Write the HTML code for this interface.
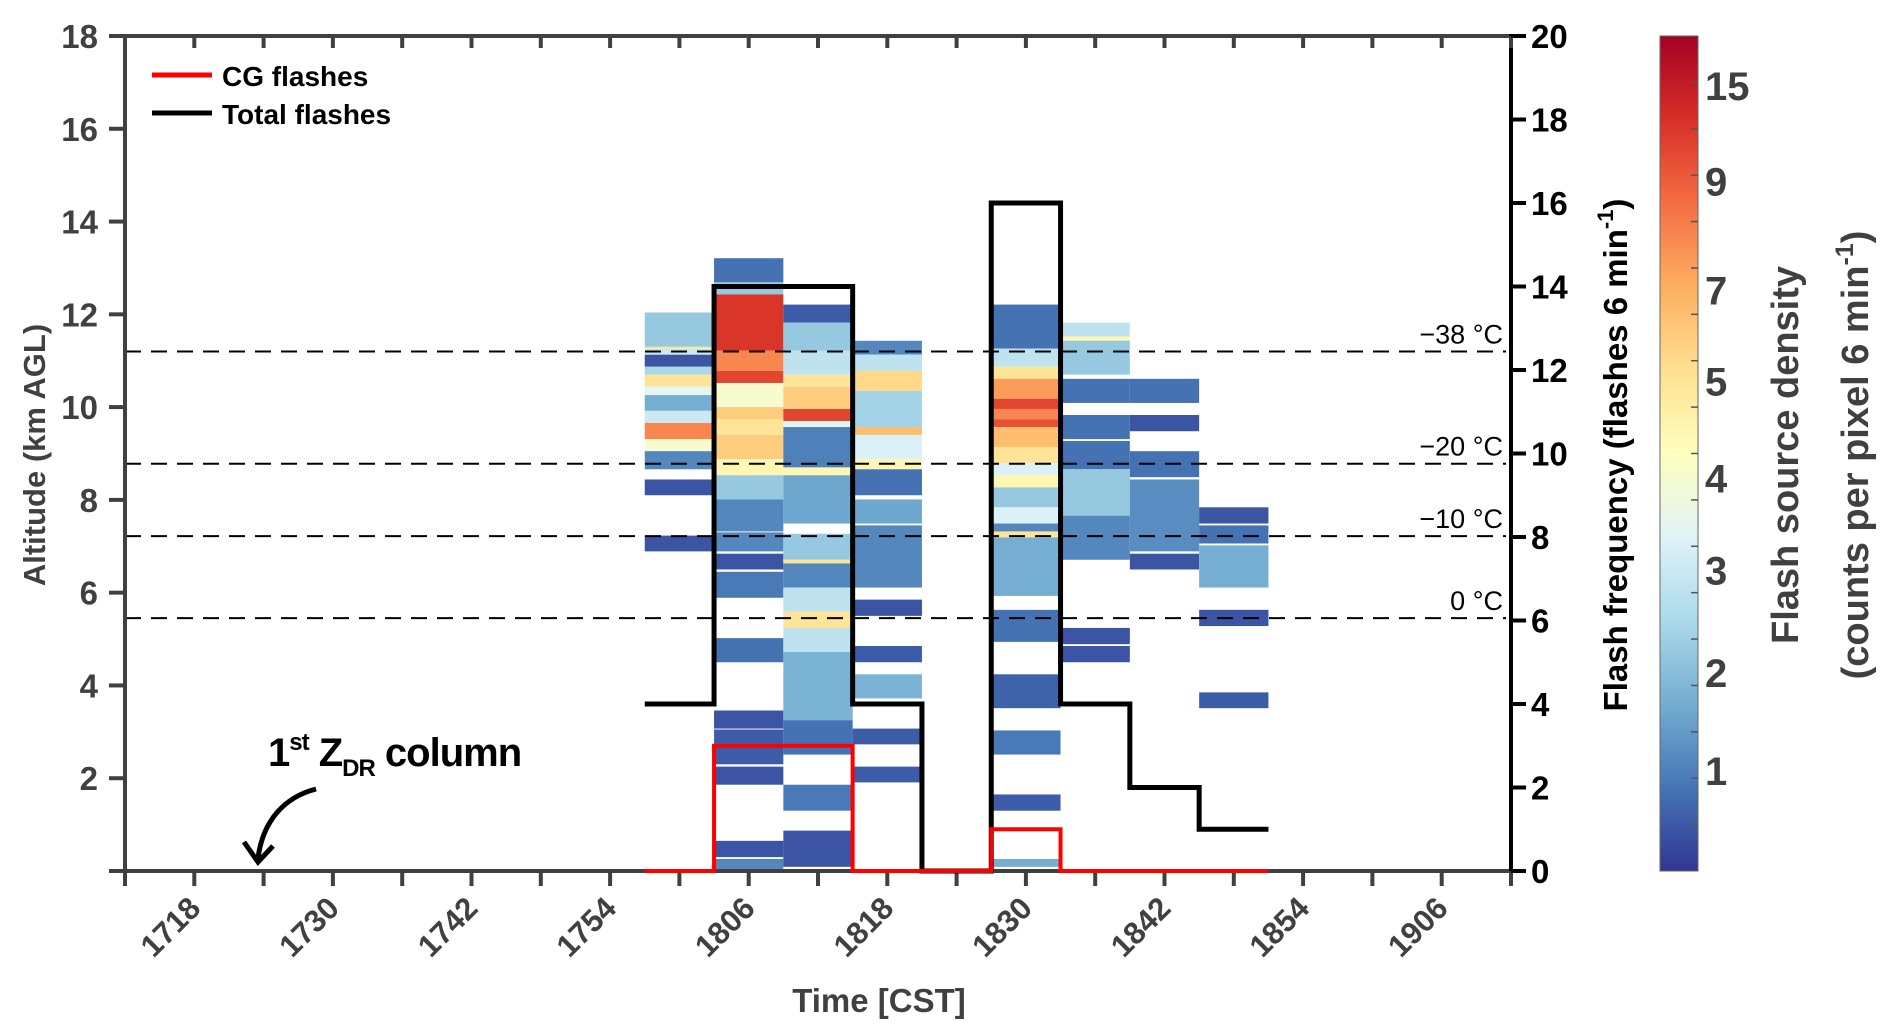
<!DOCTYPE html>
<html><head><meta charset="utf-8"><style>
html,body{margin:0;padding:0;background:#fff;}
svg{display:block;font-family:"Liberation Sans",Arial,sans-serif;font-weight:bold;}
</style></head><body>
<svg id="chart" width="1892" height="1034" viewBox="0 0 1892 1034" xmlns="http://www.w3.org/2000/svg">
<defs>
<linearGradient id="cmapGrad" x1="0" y1="1" x2="0" y2="0">
<stop offset="0" stop-color="#313695"/><stop offset="0.1" stop-color="#4575b4"/><stop offset="0.2" stop-color="#74add1"/><stop offset="0.3" stop-color="#abd9e9"/><stop offset="0.4" stop-color="#e0f3f8"/><stop offset="0.5" stop-color="#ffffbf"/><stop offset="0.6" stop-color="#fee090"/><stop offset="0.7" stop-color="#fdae61"/><stop offset="0.8" stop-color="#f46d43"/><stop offset="0.9" stop-color="#d73027"/><stop offset="1" stop-color="#a50026"/>
</linearGradient>
</defs>
<g id="heat"></g>
<g id="dash"></g>
<g id="axes"></g>
<g id="lines"></g>
<g id="cbar"></g>
<g>
<line x1="152" y1="75" x2="212" y2="75" stroke="#ff0000" stroke-width="5"/>
<text x="222" y="86" font-size="28" fill="#000">CG flashes</text>
<line x1="152" y1="113" x2="212" y2="113" stroke="#000" stroke-width="5"/>
<text x="222" y="124" font-size="28" fill="#000">Total flashes</text>
</g>
<g>
<text x="268" y="766" font-size="40" fill="#000" letter-spacing="-1">1<tspan font-size="24" dy="-16">st</tspan><tspan dy="16"> Z</tspan><tspan font-size="24" dy="10">DR</tspan><tspan dy="-10"> column</tspan></text>
<path d="M316,789 C285,797 263,820 258,858" fill="none" stroke="#000" stroke-width="5"/>
<path d="M244,842 L258,862 L273,846" fill="none" stroke="#000" stroke-width="5"/>
</g>
<text x="879" y="1012" font-size="33" fill="#404040" text-anchor="middle">Time [CST]</text>
<text transform="translate(45,455) rotate(-90)" font-size="31" fill="#404040" text-anchor="middle">Altitude (km AGL)</text>
<text transform="translate(1627,455) rotate(-90)" font-size="33" fill="#000" text-anchor="middle">Flash frequency (flashes 6 min<tspan font-size="22" dy="-14">-1</tspan><tspan dy="14">)</tspan></text>
<text transform="translate(1798,455) rotate(-90)" font-size="38" fill="#404040" text-anchor="middle">Flash source density</text>
<text transform="translate(1868,455) rotate(-90)" font-size="38" fill="#404040" text-anchor="middle">(counts per pixel 6 min<tspan font-size="25" dy="-15">-1</tspan><tspan dy="15">)</tspan></text>
</svg>
<script>
// ---- data ----
const timeLabels = ["1718","1730","1742","1754","1806","1818","1830","1842","1854","1906"];
const timeLabelIdx = [1,3,5,7,9,11,13,15,17,19];
const binIdx = [8,9,10,11,12,13,14,15,16];
const totalFlashes = [4,14,14,4,0,16,4,2,1];
const cgFlashes = [0,3,3,0,0,1,0,0,0];
const altTicks = [2,4,6,8,10,12,14,16,18];
const freqTicks = [0,2,4,6,8,10,12,14,16,18,20];
const isoAlt = [11.2,8.78,7.22,5.45];
const isoLabels = ["\u221238 \u00b0C","\u221220 \u00b0C","\u221210 \u00b0C","0 \u00b0C"];
const cbarTicks = [1,2,3,4,5,7,9,15];
const cbarFrac = [0.12,0.237,0.36,0.47,0.586,0.695,0.826,0.94];
const heatCols = [8,9,10,11,13,14,15,16];
const col1800 = [[11.30,12.04,2.2],[11.26,11.30,5],[11.13,11.26,3],[10.87,11.13,0.4],[10.70,10.87,2.5],[10.44,10.70,5],[10.26,10.44,3.5],[9.92,10.26,1.7],[9.66,9.92,3],[9.31,9.66,8],[9.05,9.31,4],[8.66,9.05,1.1],[8.10,8.44,0.4],[6.89,7.23,0.4]];
const col1806 = [[12.69,13.21,0.8],[12.43,12.69,2.2],[11.22,12.43,12.5],[10.78,11.22,8],[10.52,10.78,11],[10.0,10.52,4],[9.74,10.0,6],[9.40,9.74,5],[8.88,9.40,6],[8.53,8.88,4.5],[8.01,8.53,2.2],[7.32,8.01,1.1],[6.89,7.30,1.1],[6.50,6.84,0.4],[5.89,6.45,0.9],[4.50,5.02,0.8],[3.07,3.46,0.4],[2.30,3.05,0.5],[1.86,2.25,0.4],[0.30,0.65,0.4],[0.04,0.26,1.1]];
const col1812 = [[11.82,12.21,0.5],[11.22,11.82,2.2],[10.70,11.22,2.8],[10.44,10.70,5],[9.96,10.44,6],[9.70,9.96,11],[9.57,9.70,3.5],[8.70,9.57,1.0],[8.53,8.70,4.5],[7.49,8.53,1.6],[6.71,7.27,2.2],[6.63,6.71,5],[6.11,6.63,1.1],[5.59,6.11,2.8],[5.24,5.59,5],[4.72,5.24,2.8],[3.25,4.72,1.8],[2.51,3.25,0.8],[1.30,1.86,0.9],[0.09,0.87,0.4]];
const col1818 = [[11.13,11.43,1.1],[10.78,11.13,2.8],[10.35,10.78,5.5],[9.57,10.35,2.4],[9.40,9.57,6.5],[8.88,9.40,3.3],[8.66,8.88,4.5],[8.10,8.66,0.8],[7.49,8.01,1.6],[6.11,7.45,1.1],[5.50,5.85,0.4],[4.50,4.85,0.5],[3.72,4.24,1.8],[2.73,3.07,0.5],[1.91,2.25,0.5]];
const col1830 = [[11.26,12.21,0.8],[10.87,11.26,2.8],[10.61,10.87,5],[10.18,10.61,7.5],[9.96,10.18,11],[9.74,9.96,8],[9.57,9.74,10],[9.14,9.57,6.5],[8.79,9.14,5],[8.53,8.79,3.3],[8.27,8.53,4.5],[7.84,8.27,2.2],[7.49,7.84,3.3],[7.32,7.49,1.1],[7.19,7.32,5],[5.93,7.19,1.7],[4.94,5.63,0.8],[3.51,4.24,0.6],[2.51,3.03,0.9],[1.30,1.65,0.5],[0.09,0.26,1.7]];
const col1836 = [[11.52,11.82,2.8],[11.43,11.52,4.5],[10.70,11.43,2.2],[10.09,10.61,0.8],[9.31,9.83,0.8],[8.66,9.27,0.8],[7.66,8.66,2.2],[6.71,7.66,1.1],[4.89,5.24,0.4],[4.50,4.85,0.4]];
const col1842 = [[10.09,10.61,0.8],[9.48,9.83,0.4],[8.49,9.05,0.8],[6.89,8.44,1.2],[6.50,6.84,0.4]];
const col1848 = [[7.49,7.84,0.4],[7.06,7.45,0.8],[6.11,7.02,1.7],[5.28,5.63,0.4],[3.51,3.85,0.5]];
const heatData = [col1800,col1806,col1812,col1818,col1830,col1836,col1842,col1848];

// ---- scales ----
const X0=125, X1=1511, Y0=871, Y1=36, NT=20;
const xs = i => X0 + (X1-X0)*i/NT;
const ya = a => Y0 - (Y0-Y1)*a/18;
const yf = f => Y0 - (Y0-Y1)*f/20;
const CB = {x:1660,w:38,top:36,bot:871};
const stops=[[0,[49,54,149]],[0.1,[69,117,180]],[0.2,[116,173,209]],[0.3,[171,217,233]],[0.4,[224,243,248]],[0.5,[255,255,191]],[0.6,[254,224,144]],[0.7,[253,174,97]],[0.8,[244,109,67]],[0.9,[215,48,39]],[1,[165,0,38]]];
function valFrac(v){
  const vs=[0].concat(cbarTicks,[16]); const fs=[0].concat(cbarFrac,[1]);
  for(let i=1;i<vs.length;i++){ if(v<=vs[i]){const t=(v-vs[i-1])/(vs[i]-vs[i-1]);return fs[i-1]+t*(fs[i]-fs[i-1]);} }
  return 1;
}
function cmap(v){
  const f=Math.max(0,Math.min(1,valFrac(v)));
  for(let i=1;i<stops.length;i++){ if(f<=stops[i][0]){const t=(f-stops[i-1][0])/(stops[i][0]-stops[i-1][0]);
    const c=stops[i-1][1].map((a,k)=>Math.round(a+t*(stops[i][1][k]-a)));return `rgb(${c[0]},${c[1]},${c[2]})`;}}
  return "rgb(165,0,38)";
}
const NS="http://www.w3.org/2000/svg";
function mk(tag,attrs,parent,txt){const e=document.createElementNS(NS,tag);for(const k in attrs)e.setAttribute(k,attrs[k]);if(txt!==undefined)e.textContent=txt;parent.appendChild(e);return e;}

// heatmap
const heat=document.getElementById('heat');
heatData.forEach((col,ci)=>{
  const c=heatCols[ci];
  col.forEach(b=>{
    const r=mk('rect',{x:xs(c-0.5),y:ya(b[1]),width:xs(c+0.5)-xs(c-0.5),height:ya(b[0])-ya(b[1]),fill:cmap(b[2])},heat);
    
    
  });
});

// isotherms
const dash=document.getElementById('dash');
isoAlt.forEach((a,i)=>{
  const l=mk('line',{x1:X0,x2:1506,y1:ya(a),y2:ya(a),stroke:'#000','stroke-width':2,'stroke-dasharray':'16,10'},dash);
  
  
  const t=mk('text',{x:1503,y:ya(a)-8,'font-size':27,'text-anchor':'end',fill:'#000','font-weight':'normal'},dash,isoLabels[i]);
  
  
});

// axes
const ax=document.getElementById('axes');
mk('line',{x1:X0,y1:Y0,x2:X1,y2:Y0,stroke:'#404040','stroke-width':4},ax);
mk('line',{x1:X0,y1:Y1,x2:X1,y2:Y1,stroke:'#404040','stroke-width':4},ax);
mk('line',{x1:X0,y1:Y1,x2:X0,y2:Y0,stroke:'#404040','stroke-width':4},ax);
mk('line',{x1:X1,y1:Y1-2,x2:X1,y2:Y0+2,stroke:'#000','stroke-width':4},ax);
for(let i=0;i<=NT;i++){
  mk('line',{x1:xs(i),x2:xs(i),y1:Y0,y2:Y0+15,stroke:'#404040','stroke-width':4},ax);
  mk('line',{x1:xs(i),x2:xs(i),y1:Y1,y2:Y1+12,stroke:'#404040','stroke-width':4},ax);
}
timeLabels.forEach((s,i)=>{
  const x=xs(timeLabelIdx[i])+8, y=910;
  const t=mk('text',{transform:`translate(${x},${y}) rotate(-45)`,'font-size':31,'text-anchor':'end',fill:'#404040'},ax,s);
  
  
});
[0].concat(altTicks).forEach(a=>{
  mk('line',{x1:X0-16,x2:X0,y1:ya(a),y2:ya(a),stroke:'#404040','stroke-width':4},ax);
});
altTicks.forEach(a=>{
  const t=mk('text',{x:98,y:ya(a)+12,'font-size':33,'text-anchor':'end',fill:'#404040'},ax,String(a));
  
  
});
freqTicks.forEach(f=>{
  mk('line',{x1:X1,x2:X1+15,y1:yf(f),y2:yf(f),stroke:'#000','stroke-width':4},ax);
  const t=mk('text',{x:1531,y:yf(f)+12,'font-size':33,fill:'#000'},ax,String(f));
  
  
});

// step lines
function stepPath(vals){
  let d='';
  binIdx.forEach((b,i)=>{
    const y=yf(vals[i]);
    d+=(i===0?'M':'L')+xs(b-0.5)+','+y+' L'+xs(b+0.5)+','+y+' ';
  });
  return d;
}
const lines=document.getElementById('lines');
const tp=mk('path',{d:stepPath(totalFlashes),fill:'none',stroke:'#000','stroke-width':5},lines);


const cp=mk('path',{d:stepPath(cgFlashes),fill:'none',stroke:'#ff0000','stroke-width':4},lines);



// colorbar
const cb=document.getElementById('cbar');
const cr=mk('rect',{x:CB.x,y:CB.top,width:CB.w,height:CB.bot-CB.top,fill:'url(#cmapGrad)',stroke:'#666','stroke-width':1},cb);


for(let k=1;k<18;k++){
  const y=CB.bot-(CB.bot-CB.top)*k/18;
  mk('line',{x1:CB.x+CB.w-7,x2:CB.x+CB.w,y1:y,y2:y,stroke:'#555','stroke-width':1.5},cb);
}
cbarTicks.forEach((v,i)=>{
  const y=CB.bot-(CB.bot-CB.top)*cbarFrac[i];
  const t=mk('text',{x:1705,y:y+14,'font-size':40,fill:'#404040'},cb,String(v));
  
  
});
</script>
</body></html>
